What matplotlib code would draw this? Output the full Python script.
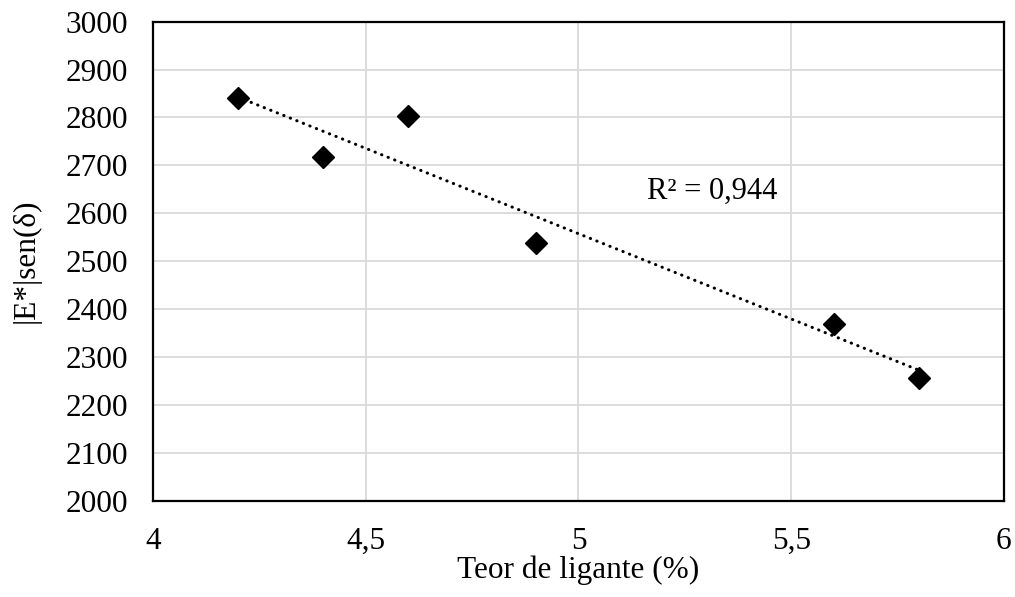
import matplotlib
matplotlib.use('Agg')
import matplotlib.pyplot as plt
import numpy as np

# Data
teor = [4.2, 4.4, 4.6, 4.9, 5.6, 5.8]
e_sen = [2840, 2717, 2803, 2539, 2368, 2256]
r2_label = 'R² = 0,944'

plt.rcParams['font.family'] = ['Liberation Serif', 'DejaVu Serif']

fig = plt.figure(figsize=(10.15, 5.97), dpi=100)
ax = fig.add_axes([0.1507, 0.1613, 0.8384, 0.8024])

# Linear trendline
coef = np.polyfit(teor, e_sen, 1)
xs = np.array([min(teor), max(teor)])
ax.plot(xs, np.polyval(coef, xs), color='black', linestyle=(0, (0.1, 2.2)),
        linewidth=2.2, dash_capstyle='round', zorder=2)

ax.plot(teor, e_sen, linestyle='none', marker='D', markersize=11,
        color='black', zorder=3)

ax.text(5.315, 2645, r2_label, fontsize=22, ha='center', va='center')

ax.set_xlim(4, 6)
ax.set_ylim(2000, 3000)
ax.set_xticks([4, 4.5, 5, 5.5, 6])
ax.set_xticklabels(['4', '4,5', '5', '5,5', '6'])
ax.set_yticks(range(2000, 3001, 100))
ax.tick_params(axis='y', length=0, labelsize=22.5, pad=18)
ax.tick_params(axis='x', length=0, labelsize=22.5, pad=19)

ax.grid(True, color='#d9d9d9', linewidth=1.3)
ax.set_axisbelow(True)
for s in ax.spines.values():
    s.set_linewidth(1.6)
    s.set_color('black')

ax.set_xlabel('Teor de ligante (%)', fontsize=22.5)
ax.xaxis.set_label_coords(0.5, -0.115)
ax.set_ylabel('|E*|sen(δ)', fontsize=22.5, va='center')
ax.yaxis.set_label_coords(-0.149, 0.5)

fig.savefig('out.png', dpi=100)
